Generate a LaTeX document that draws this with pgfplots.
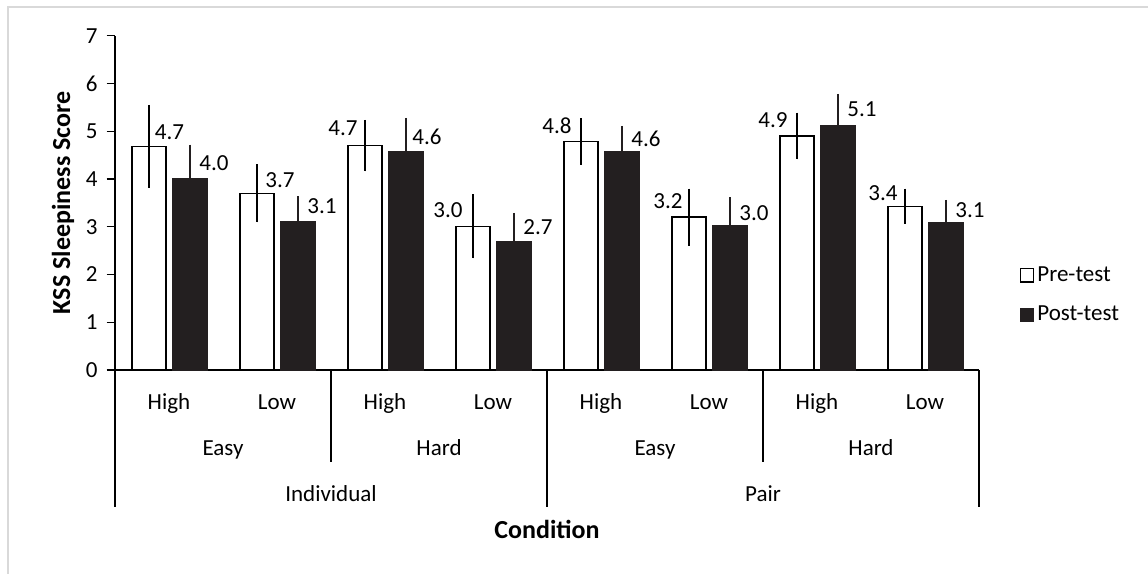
\documentclass[border=0pt]{standalone}
\usepackage{pgfplots}
\pgfplotsset{compat=1.18}
\usepackage{fontspec}
\setmainfont{Carlito}
\definecolor{barblack}{HTML}{231F20}
\definecolor{framegray}{HTML}{D9D9D9}
\pgfplotstableread{
x y e
-0.185 4.68 0.87
0.815 3.70 0.61
1.815 4.70 0.54
2.815 3.01 0.67
3.815 4.78 0.49
4.815 3.20 0.60
5.815 4.90 0.49
6.815 3.43 0.37
}\pretable
\pgfplotstableread{
x y e
0.195 4.01 0.71
1.195 3.10 0.54
2.195 4.57 0.71
3.195 2.69 0.60
4.195 4.57 0.54
5.195 3.02 0.60
6.195 5.12 0.66
7.195 3.08 0.48
}\posttable
\begin{document}
\begin{tikzpicture}
\useasboundingbox (0,0) rectangle (574pt,-287pt);
\fill[white] (0,0) rectangle (574pt,-287pt);
\draw[framegray, line width=1pt] (4pt,-287pt) -- (4pt,-3.5pt) -- (574pt,-3.5pt);
\begin{axis}[
  at={(57.5pt,-185pt)}, anchor=south west,
  scale only axis, width=432pt, height=167.15pt,
  xmin=-0.5, xmax=7.5, ymin=0, ymax=7,
  clip=false,
  axis lines*=left,
  axis line style={line width=0.7pt, black},
  xtick=\empty,
  ytick={0,1,2,3,4,5,6,7},
  tick align=outside,
  major tick length=4.2pt,
  ytick style={line width=0.7pt, black},
  /pgf/number format/assume math mode=true,
  yticklabel style={font=\fontsize{11.5}{13}\selectfont, xshift=-1pt},
  legend style={at={(rel axis cs:1.047,0.32)}, anchor=north west, draw=none, fill=none,
    font=\fontsize{11.5}{13}\selectfont, row sep=8pt, inner sep=0pt,
    nodes={inner sep=1.5pt}},
  legend cell align=left,
]
\addplot[ybar, bar width=17pt, bar shift=0pt, draw=black, fill=white, line width=0.7pt,
  legend image code/.code={\draw[black, fill=white, line width=0.6pt] (0pt,-3.3pt) rectangle (6.6pt,3.3pt);},
  error bars/.cd, y dir=both, y explicit, error mark=none,
  error bar style={line width=0.7pt, black}]
  table[x=x, y=y, y error=e] {\pretable};
\addlegendentry{Pre-test}
\addplot[ybar, bar width=17pt, bar shift=0pt, draw=barblack, fill=barblack, line width=0.7pt,
  legend image code/.code={\draw[barblack, fill=barblack, line width=0.6pt] (0pt,-3.3pt) rectangle (6.6pt,3.3pt);},
  error bars/.cd, y dir=both, y explicit, error mark=none,
  error bar style={line width=0.7pt, barblack}]
  table[x=x, y=y, y error=e] {\posttable};
\addlegendentry{Post-test}

% category separators
\draw[line width=0.7pt, black] (axis cs:-0.5,0) -- (axis cs:-0.5,-2.87);
\draw[line width=0.7pt, black] (axis cs:1.5,0) -- (axis cs:1.5,-1.93);
\draw[line width=0.7pt, black] (axis cs:3.5,0) -- (axis cs:3.5,-2.87);
\draw[line width=0.7pt, black] (axis cs:5.5,0) -- (axis cs:5.5,-1.93);
\draw[line width=0.7pt, black] (axis cs:7.5,0) -- (axis cs:7.5,-2.87);

% category labels
\begin{scope}[every node/.style={font=\fontsize{11.5}{13}\selectfont, anchor=base, inner sep=0pt}]
\node at (axis cs:0,-0.837) {High};
\node at (axis cs:1,-0.837) {Low};
\node at (axis cs:2,-0.837) {High};
\node at (axis cs:3,-0.837) {Low};
\node at (axis cs:4,-0.837) {High};
\node at (axis cs:5,-0.837) {Low};
\node at (axis cs:6,-0.837) {High};
\node at (axis cs:7,-0.837) {Low};
\node at (axis cs:0.5,-1.78) {Easy};
\node at (axis cs:2.5,-1.78) {Hard};
\node at (axis cs:4.5,-1.78) {Easy};
\node at (axis cs:6.5,-1.78) {Hard};
\node at (axis cs:1.5,-2.757) {Individual};
\node at (axis cs:5.5,-2.757) {Pair};
\node[font=\fontsize{13}{15}\selectfont\bfseries] at (axis cs:3.5,-3.524) {Condition};
\end{scope}

% y label
\node[rotate=90, font=\fontsize{13}{15}\selectfont\bfseries, anchor=center]
  at ([xshift=-26pt]rel axis cs:0,0.5) {KSS Sleepiness Score};

% data labels
\begin{scope}[every node/.style={font=\fontsize{11.5}{13}\selectfont, anchor=center, inner sep=0pt}]
\node at (axis cs:0.005,4.97) {4.7};
\node at (axis cs:0.417,4.33) {4.0};
\node at (axis cs:1.028,3.98) {3.7};
\node at (axis cs:1.417,3.43) {3.1};
\node at (axis cs:1.611,5.06) {4.7};
\node at (axis cs:2.389,4.89) {4.6};
\node at (axis cs:2.583,3.35) {3.0};
\node at (axis cs:3.417,3.00) {2.7};
\node at (axis cs:3.593,5.11) {4.8};
\node at (axis cs:4.417,4.85) {4.6};
\node at (axis cs:4.620,3.54) {3.2};
\node at (axis cs:5.417,3.29) {3.0};
\node at (axis cs:5.593,5.23) {4.9};
\node at (axis cs:6.417,5.46) {5.1};
\node at (axis cs:6.611,3.70) {3.4};
\node at (axis cs:7.417,3.35) {3.1};
\end{scope}
\end{axis}
\end{tikzpicture}
\end{document}
